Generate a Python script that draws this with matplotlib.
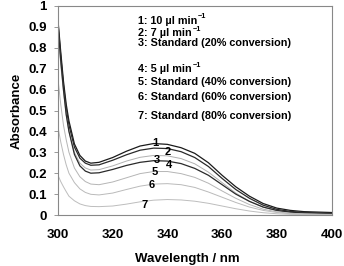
import matplotlib
matplotlib.use("Agg")
import matplotlib.pyplot as plt

plt.rcParams['font.family'] = ['Liberation Sans', 'DejaVu Sans']
plt.rcParams['font.weight'] = 'bold'

wavelength = [300, 301, 302, 303, 304, 306, 308, 310, 312, 315, 320, 325, 330, 335,
              340, 345, 350, 355, 360, 365, 370, 375, 380, 385, 390, 395, 400]

abs_1 = [0.93, 0.78, 0.64, 0.53, 0.45, 0.34, 0.285, 0.258, 0.248, 0.252, 0.275, 0.305, 0.33, 0.342,
         0.338, 0.322, 0.295, 0.25, 0.19, 0.135, 0.09, 0.055, 0.033, 0.022, 0.016, 0.014, 0.012]
abs_2 = [0.92, 0.76, 0.62, 0.51, 0.43, 0.325, 0.272, 0.248, 0.238, 0.24, 0.262, 0.288, 0.31, 0.32,
         0.318, 0.303, 0.275, 0.232, 0.175, 0.122, 0.08, 0.047, 0.027, 0.017, 0.012, 0.01, 0.009]
abs_3 = [0.88, 0.72, 0.59, 0.48, 0.40, 0.30, 0.248, 0.225, 0.215, 0.217, 0.235, 0.258, 0.276, 0.285,
         0.283, 0.27, 0.245, 0.205, 0.155, 0.105, 0.066, 0.038, 0.02, 0.012, 0.008, 0.006, 0.005]
abs_4 = [0.90, 0.74, 0.60, 0.48, 0.40, 0.29, 0.235, 0.21, 0.20, 0.202, 0.218, 0.237, 0.252, 0.26,
         0.258, 0.246, 0.223, 0.19, 0.145, 0.10, 0.065, 0.038, 0.022, 0.014, 0.01, 0.008, 0.007]
abs_5 = [0.65, 0.53, 0.43, 0.36, 0.30, 0.225, 0.183, 0.16, 0.148, 0.145, 0.158, 0.178, 0.198, 0.208,
         0.208, 0.198, 0.18, 0.152, 0.115, 0.08, 0.05, 0.028, 0.015, 0.008, 0.005, 0.004, 0.003]
abs_6 = [0.42, 0.35, 0.29, 0.24, 0.20, 0.155, 0.125, 0.108, 0.099, 0.096, 0.105, 0.122, 0.138, 0.148,
         0.15, 0.145, 0.132, 0.11, 0.085, 0.06, 0.038, 0.022, 0.012, 0.006, 0.004, 0.003, 0.002]
abs_7 = [0.19, 0.16, 0.135, 0.112, 0.09, 0.068, 0.053, 0.045, 0.041, 0.04, 0.043, 0.052, 0.063, 0.071,
         0.074, 0.072, 0.066, 0.056, 0.043, 0.03, 0.019, 0.011, 0.006, 0.003, 0.002, 0.001, 0.001]

series = [abs_1, abs_2, abs_3, abs_4, abs_5, abs_6, abs_7]
colors = ['#1a1a1a', '#2a2a2a', '#b0b0b0', '#2a2a2a', '#b5b5b5', '#bababa', '#bdbdbd']
widths = [0.9, 0.9, 0.7, 0.9, 0.7, 0.7, 0.7]

curve_labels = ['1', '2', '3', '4', '5', '6', '7']
label_pos = [(335.5, 0.343), (340.3, 0.303), (336.1, 0.263), (340.7, 0.239),
             (335.5, 0.207), (334.3, 0.144), (331.8, 0.048)]

legend_lines = ['1: 10 µl min',
                '2: 7 µl min',
                '3: Standard (20% conversion)',
                '4: 5 µl min',
                '5: Standard (40% conversion)',
                '6: Standard (60% conversion)',
                '7: Standard (80% conversion)']
legend_sup = ['\u22121', '\u22121', '', '\u22121', '', '', '']
legend_y = [0.914, 0.856, 0.809, 0.684, 0.620, 0.548, 0.459]

xticks = [300, 320, 340, 360, 380, 400]
yticks = [0, 0.1, 0.2, 0.3, 0.4, 0.5, 0.6, 0.7, 0.8, 0.9, 1.0]
ytick_labels = ['0', '0.1', '0.2', '0.3', '0.4', '0.5', '0.6', '0.7', '0.8', '0.9', '1']

fig = plt.figure(figsize=(3.44, 2.66), dpi=100)
ax = fig.add_axes([58/344, 1 - 215/266, (331.5 - 58)/344, (215 - 6)/266])

for ys, c, lw in zip(series, colors, widths):
    ax.plot(wavelength, ys, color=c, lw=lw)

for lab, (x, y) in zip(curve_labels, label_pos):
    ax.text(x, y, lab, fontsize=8, fontweight='bold', ha='center', va='center')

lfs = 7.8
for txt, sup, y in zip(legend_lines, legend_sup, legend_y):
    t = ax.text(329.3, y, txt, fontsize=lfs, fontweight='bold', ha='left', va='baseline')
    if sup:
        ax.annotate(sup, xy=(1, 0.55), xycoords=t, xytext=(0.5, 0), textcoords='offset points',
                    fontsize=5.2, fontweight='bold', ha='left', va='bottom')

ax.set_xlim(300, 400)
ax.set_ylim(0, 1)
ax.set_xticks(xticks)
ax.set_xticklabels([str(t) for t in xticks])
ax.set_yticks(yticks)
ax.set_yticklabels(ytick_labels)
ax.tick_params(axis='x', length=0, pad=10, labelsize=9.5, colors='black')
ax.tick_params(axis='y', length=3, width=0.6, color='#888888', pad=5, labelsize=9.5)
for lab in ax.get_xticklabels() + ax.get_yticklabels():
    lab.set_fontweight('bold')
for s in ax.spines.values():
    s.set_color('#888888')
    s.set_linewidth(0.8)

ax.set_xlabel('Wavelength / nm', fontsize=9.5, fontweight='bold', labelpad=5)
ax.xaxis.set_label_coords(0.472, -0.18)
ax.set_ylabel('Absorbance', fontsize=9.5, fontweight='bold', labelpad=4)

fig.savefig('out.png', dpi=100)
